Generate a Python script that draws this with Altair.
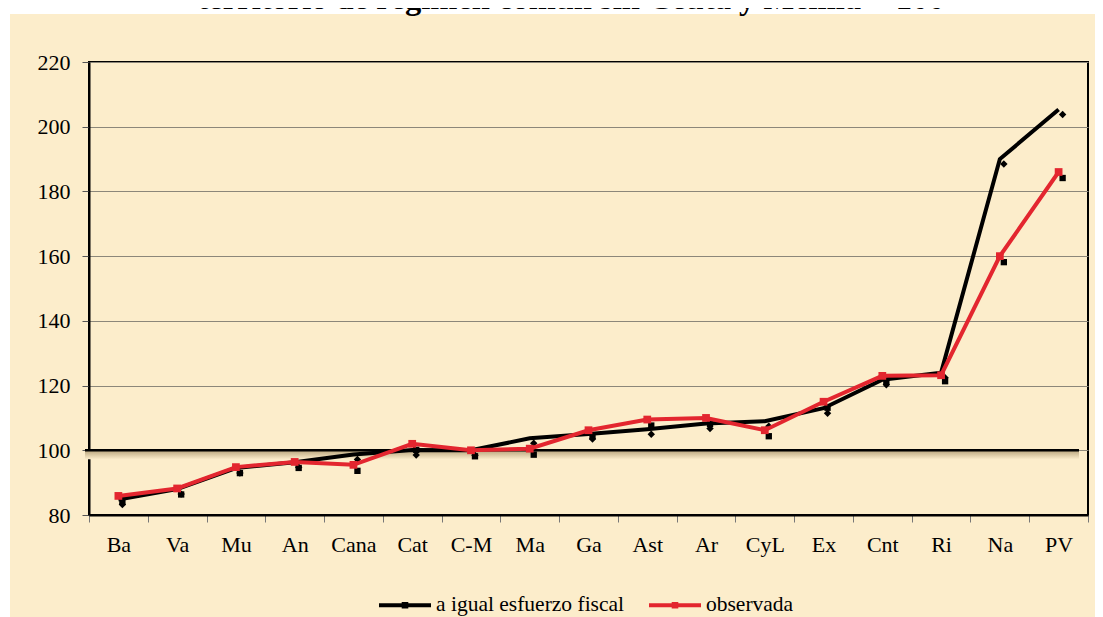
import altair as alt
import pandas as pd

# ---------------- data ----------------
categorias = ["Ba", "Va", "Mu", "An", "Cana", "Cat", "C-M", "Ma", "Ga",
              "Ast", "Ar", "CyL", "Ex", "Cnt", "Ri", "Na", "PV"]
igual_esfuerzo = [84.8, 88.0, 94.5, 96.3, 98.7, 100.1, 100.0, 103.7, 105.0,
                  106.5, 108.3, 109.0, 113.0, 121.8, 124.0, 190.0, 205.3]
observada = [85.9, 88.2, 94.8, 96.4, 95.5, 102.0, 100.0, 100.5, 106.2,
             109.5, 110.0, 106.2, 115.0, 123.0, 123.2, 160.0, 186.0]
serie_nombres = ["a igual esfuerzo fiscal", "observada"]
y_ticks = [80, 100, 120, 140, 160, 180, 200, 220]
referencia = [100]
titulo = "territorio de régimen común sin Ceuta y Melilla = 100"

n = len(categorias)
df = pd.DataFrame({
    "categoria": categorias * 2,
    "valor": igual_esfuerzo + observada,
    "serie": [serie_nombres[0]] * n + [serie_nombres[1]] * n,
})
df_b = df[df["serie"] == serie_nombres[0]]
df_r = df[df["serie"] == serie_nombres[1]]
one = pd.DataFrame({"k": [0]})
ref_df = pd.DataFrame({"ref": referencia})

# ---------------- style ----------------
BEIGE = "#FCEDCB"
RED = "#E3262F"
SERIF = "Liberation Serif"
W, H = 999, 453
PAD_B = 102

x_enc = alt.X(
    "categoria:N", sort=categorias,
    scale=alt.Scale(type="band", paddingInner=0, paddingOuter=0),
    axis=alt.Axis(title=None, labelAngle=0, tickBand="extent", labelFont=SERIF,
                  labelFontSize=22, labelColor="#000", labelPadding=12,
                  tickSize=7, tickColor="#777", tickWidth=1,
                  domainColor="#000", domainWidth=2, grid=False),
)
y_enc = alt.Y(
    "valor:Q",
    scale=alt.Scale(domain=[80, 220], nice=False, zero=False),
    axis=alt.Axis(title=None, values=y_ticks, labelFont=SERIF, labelFontSize=22,
                  labelColor="#000", labelPadding=12, tickSize=7, tickColor="#555",
                  tickWidth=1, domainColor="#000", domainWidth=2, grid=True,
                  gridColor="#8c877a", gridWidth=1),
)

legend_symbol = "M-1,0H1M-0.05,-0.05H0.05V0.05H-0.05Z"
color_enc = alt.Color(
    "serie:N",
    scale=alt.Scale(domain=serie_nombres, range=["#000000", RED]),
    legend=alt.Legend(
        title=None, orient="none", legendX=288, legendY=515,
        direction="horizontal", symbolType=legend_symbol, symbolSize=2704,
        symbolStrokeWidth=4, symbolOpacity=1, labelFont=SERIF, labelFontSize=21.5,
        labelColor="#000", labelOffset=3, labelLimit=500, columnPadding=16,
        padding=0,
    ),
)

# white strips outside the beige panel
strip_top = alt.Chart(one).mark_rect(color="white").encode(
    x=alt.value(-81), x2=alt.value(W + 7), y=alt.value(-54), y2=alt.value(-48))
strip_left = alt.Chart(one).mark_rect(color="white").encode(
    x=alt.value(-81), x2=alt.value(-79), y=alt.value(-54), y2=alt.value(H + PAD_B))

title_txt = alt.Chart(one).mark_text(
    text=titulo, font="Liberation Serif", fontWeight="bold", fontSize=32.5,
    align="center", baseline="alphabetic", color="#000",
).encode(x=alt.value(482), y=alt.value(-52.7))

shadow = alt.Chart(ref_df).mark_rect(
    fill=alt.LinearGradient(
        gradient="linear", x1=0, x2=0, y1=0, y2=1,
        stops=[alt.GradientStop(color="#b8a47c", offset=0),
               alt.GradientStop(color=BEIGE, offset=1)]),
).encode(y=alt.Y("ref:Q"), y2=alt.datum(97.2), x=alt.value(-4), x2=alt.value(990))

ref_rule = alt.Chart(ref_df).mark_rule(color="#000", strokeWidth=2.5).encode(
    y=alt.Y("ref:Q"), x=alt.value(-4), x2=alt.value(990))

shadow_sq = alt.Chart(df_r).mark_square(
    size=40, color="#000", opacity=1, xOffset=4, yOffset=6).encode(x=x_enc, y=y_enc)
shadow_dm = alt.Chart(df_b).mark_point(
    shape="diamond", filled=True, size=55, color="#000", opacity=1,
    xOffset=4, yOffset=5).encode(x=x_enc, y=y_enc)

line_b = alt.Chart(df_b).mark_line(strokeWidth=4).encode(x=x_enc, y=y_enc, color=color_enc)
line_r = alt.Chart(df_r).mark_line(strokeWidth=4).encode(x=x_enc, y=y_enc, color=color_enc)
pts_r = alt.Chart(df_r).mark_square(size=60, color=RED, opacity=1).encode(x=x_enc, y=y_enc)

chart = alt.layer(
    strip_top, strip_left, title_txt, shadow, ref_rule,
    shadow_sq, shadow_dm, line_b, line_r, pts_r,
).properties(
    width=W, height=H,
    padding={"left": 81, "top": 54, "right": 7, "bottom": PAD_B},
    autosize=alt.AutoSizeParams(type="none"),
).configure(
    background=BEIGE,
).configure_view(
    stroke="#000", strokeWidth=2, fill=None,
)

chart.save("out.html", embed_options={"renderer": "svg", "actions": False})
